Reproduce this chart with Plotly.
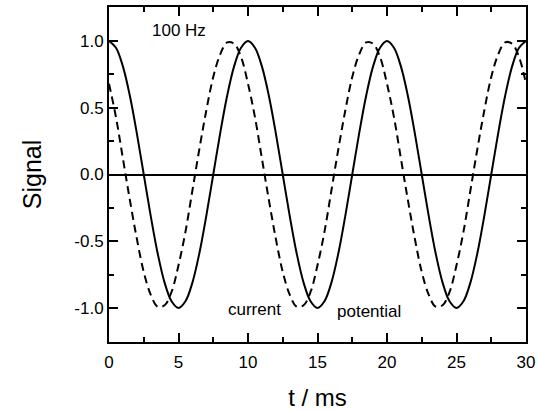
import plotly.graph_objects as go

# time axis samples (ms)
t_ms = [i * 0.5 for i in range(61)]

# solid curve (current) values read at 0.5 ms steps, one period = 20 samples
current_period = [1.0, 0.95, 0.81, 0.59, 0.31, 0.0, -0.31, -0.59, -0.81, -0.95,
                  -1.0, -0.95, -0.81, -0.59, -0.31, 0.0, 0.31, 0.59, 0.81, 0.95]
current = current_period * 3 + [1.0]

# dashed curve (potential), leading by ~1.3 ms
potential_period = [0.68, 0.43, 0.12, -0.19, -0.48, -0.73, -0.90, -0.99, -0.98, -0.88,
                    -0.68, -0.43, -0.12, 0.19, 0.48, 0.73, 0.90, 0.99, 0.98, 0.88]
potential = potential_period * 3 + [0.68]

x_ticks = [0, 5, 10, 15, 20, 25, 30]
x_minor_ticks = [2.5, 7.5, 12.5, 17.5, 22.5, 27.5]
y_ticks = [-1.0, -0.5, 0.0, 0.5, 1.0]
y_tick_labels = ["-1.0", "-0.5", "0.0", "0.5", "1.0"]
y_minor_ticks = [-1.25, -0.75, -0.25, 0.25, 0.75, 1.25]

x_range = [0, 30]
y_range = [-1.255, 1.255]

font_family = "Liberation Sans, Arial, sans-serif"

fig = go.Figure()
fig.add_trace(go.Scatter(x=t_ms, y=potential, mode="lines",
                         line=dict(color="black", width=2, dash="8px,5px", shape="spline"),
                         showlegend=False, hoverinfo="skip"))
fig.add_trace(go.Scatter(x=t_ms, y=current, mode="lines",
                         line=dict(color="black", width=2, shape="spline"),
                         showlegend=False, hoverinfo="skip"))
# empty trace to create the overlay subplot carrying the minor ticks
fig.add_trace(go.Scatter(x=[], y=[], xaxis="x2", yaxis="y2", showlegend=False))

fig.add_annotation(x=5.0, y=1.08, text="100 Hz", showarrow=False,
                   font=dict(family=font_family, size=17, color="black"))
fig.add_annotation(x=10.5, y=-1.01, text="current", showarrow=False,
                   font=dict(family=font_family, size=17, color="black"))
fig.add_annotation(x=18.7, y=-1.03, text="potential", showarrow=False,
                   font=dict(family=font_family, size=17, color="black"))

fig.update_layout(
    width=538, height=411,
    margin=dict(l=109, r=12, t=7, b=69),
    plot_bgcolor="white", paper_bgcolor="white",
    font=dict(family=font_family, color="black"),
    xaxis=dict(
        range=x_range, tickvals=x_ticks, ticks="inside", ticklen=9, tickwidth=2,
        tickcolor="black", showline=True, linecolor="black", linewidth=2, mirror="ticks",
        showgrid=False, zeroline=False, automargin=False, ticklabelstandoff=4,
        tickfont=dict(size=17, family=font_family),
        title=dict(text="t / ms", font=dict(size=24, family=font_family), standoff=18),
    ),
    yaxis=dict(
        range=y_range, tickvals=y_ticks, ticktext=y_tick_labels, ticks="inside",
        ticklen=9, tickwidth=2, tickcolor="black", showline=True, linecolor="black",
        linewidth=2, mirror="ticks", showgrid=False, automargin=False,
        zeroline=True, zerolinecolor="black", zerolinewidth=1.5,
        tickfont=dict(size=17, family=font_family),
        title=dict(text="Signal", font=dict(size=25, family=font_family), standoff=26),
    ),
    xaxis2=dict(
        overlaying="x", anchor="y2", range=x_range, tickvals=x_minor_ticks,
        ticks="inside", ticklen=5, tickwidth=1.5, tickcolor="black",
        showticklabels=False, showline=False, mirror="ticks", showgrid=False,
        zeroline=False, automargin=False,
    ),
    yaxis2=dict(
        overlaying="y", anchor="x2", range=y_range, tickvals=y_minor_ticks,
        ticks="inside", ticklen=5, tickwidth=1.5, tickcolor="black",
        showticklabels=False, showline=False, mirror="ticks", showgrid=False,
        zeroline=False, automargin=False,
    ),
)

fig.write_html("out.html", post_script="document.body.style.margin='0';",
               config={"displayModeBar": False})
